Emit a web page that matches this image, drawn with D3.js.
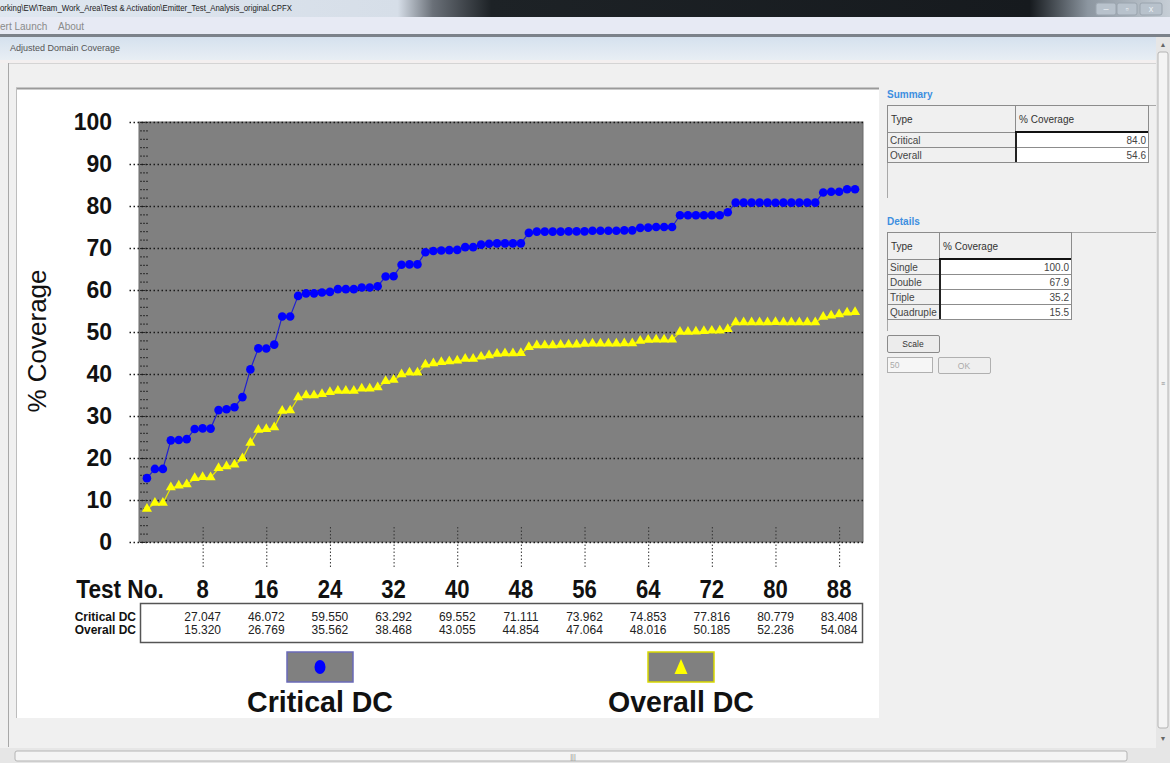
<!DOCTYPE html>
<html lang="en">
<head>
<meta charset="utf-8">
<title>Adjusted Domain Coverage</title>
<script src="https://d3js.org/d3.v7.min.js"></script>
<style>
  body { margin: 0; background: #f0f0f0; }
  svg { display: block; font-family: "Liberation Sans", Arial, sans-serif; }
</style>
</head>
<body>
<script>
// data: % coverage after each test (tests 1..90)
const criticalDC = [
  15.2, 17.4, 17.4, 24.2, 24.3, 24.5, 26.9, 27.05, 27.0, 31.4,
  31.6, 32.1, 34.5, 41.1, 46.1, 46.07, 47.0, 53.7, 53.7, 58.6,
  59.2, 59.2, 59.4, 59.55, 60.2, 60.2, 60.2, 60.6, 60.6, 60.9,
  63.2, 63.29, 66.0, 66.1, 66.1, 69.0, 69.3, 69.4, 69.5, 69.55,
  70.2, 70.2, 70.8, 71.0, 71.1, 71.1, 71.1, 71.11, 73.6, 73.9,
  73.9, 73.9, 73.9, 73.95, 73.95, 73.96, 74.1, 74.1, 74.1, 74.1,
  74.2, 74.2, 74.8, 74.85, 75.0, 75.0, 75.0, 77.8, 77.8, 77.8,
  77.8, 77.82, 77.8, 78.5, 80.8, 80.8, 80.8, 80.8, 80.8, 80.78,
  80.8, 80.8, 80.8, 80.8, 80.8, 83.2, 83.4, 83.41, 84.0, 84.0
];
const overallDC = [
  7.8, 9.2, 9.2, 12.9, 13.3, 13.6, 15.1, 15.32, 15.3, 17.5,
  17.9, 18.3, 19.8, 23.5, 26.6, 26.77, 27.2, 31.1, 31.2, 34.3,
  34.8, 34.8, 35.1, 35.56, 35.9, 35.9, 35.9, 36.4, 36.4, 36.7,
  38.2, 38.47, 39.8, 40.2, 40.2, 42.1, 42.4, 42.7, 42.9, 43.06,
  43.5, 43.5, 44.0, 44.3, 44.7, 44.8, 44.8, 44.85, 46.3, 46.7,
  46.7, 46.7, 46.8, 46.9, 46.9, 47.06, 47.1, 47.1, 47.1, 47.1,
  47.2, 47.2, 47.8, 48.02, 48.1, 48.1, 48.1, 49.9, 49.9, 50.0,
  50.1, 50.19, 50.2, 50.6, 52.2, 52.2, 52.2, 52.2, 52.2, 52.24,
  52.2, 52.2, 52.2, 52.2, 52.2, 53.5, 53.8, 54.08, 54.5, 54.6
];
const xTicks = [8, 16, 24, 32, 40, 48, 56, 64, 72, 80, 88];
const yTicks = [0, 10, 20, 30, 40, 50, 60, 70, 80, 90, 100];
const tableCritical = ["27.047", "46.072", "59.550", "63.292", "69.552", "71.111", "73.962", "74.853", "77.816", "80.779", "83.408"];
const tableOverall = ["15.320", "26.769", "35.562", "38.468", "43.055", "44.854", "47.064", "48.016", "50.185", "52.236", "54.084"];
const seriesNames = ["Critical DC", "Overall DC"];
const summaryRows = [["Critical", "84.0"], ["Overall", "54.6"]];
const detailRows = [["Single", "100.0"], ["Double", "67.9"], ["Triple", "35.2"], ["Quadruple", "15.5"]];

const W = 1170, H = 763;
const plot = { left: 139, right: 863, top: 122, bottom: 542 };

const svg = d3.select("body").append("svg").attr("width", W).attr("height", H);
const defs = svg.append("defs");

// ---- window chrome ----
const tg = defs.append("linearGradient").attr("id", "titleGrad");
[[0, "#dfe7f0"], [0.34, "#d6dee8"], [0.37, "#6a7078"], [0.42, "#1d2226"], [0.88, "#161a1e"], [0.93, "#8c96a0"], [1, "#c6ced6"]]
  .forEach(s => tg.append("stop").attr("offset", s[0]).attr("stop-color", s[1]));
const hg = defs.append("linearGradient").attr("id", "tabGrad").attr("x2", 0).attr("y2", 1);
hg.append("stop").attr("offset", 0).attr("stop-color", "#d5e1ee");
hg.append("stop").attr("offset", 1).attr("stop-color", "#e8eef4");

svg.append("rect").attr("width", W).attr("height", H).attr("fill", "#f0f0f0");
svg.append("rect").attr("width", W).attr("height", 17).attr("fill", "url(#titleGrad)");
svg.append("text").attr("x", 0).attr("y", 11).attr("font-size", 9).attr("fill", "#222")
  .attr("textLength", 292).attr("lengthAdjust", "spacingAndGlyphs")
  .text("orking\\EW\\Team_Work_Area\\Test & Activation\\Emitter_Test_Analysis_original.CPFX");
// window buttons
[[1096, 20, "–"], [1117, 20, "▫"], [1140, 22, "x"]].forEach(b => {
  svg.append("rect").attr("x", b[0]).attr("y", 3).attr("width", b[1]).attr("height", 12)
    .attr("fill", "#b8c2cc").attr("stroke", "#9aa4ae").attr("rx", 2);
  svg.append("text").attr("x", b[0] + b[1] / 2).attr("y", 12).attr("text-anchor", "middle")
    .attr("font-size", 9).attr("fill", "#eef2f6").text(b[2]);
});
svg.append("rect").attr("y", 17).attr("width", W).attr("height", 17).attr("fill", "#e7eaf4");
svg.append("text").attr("x", 0).attr("y", 30).attr("font-size", 10).attr("fill", "#8a8a8a").text("ert Launch");
svg.append("text").attr("x", 58).attr("y", 30).attr("font-size", 10).attr("fill", "#8a8a8a").text("About");
svg.append("rect").attr("y", 34).attr("width", W).attr("height", 3).attr("fill", "#7c828a");
svg.append("rect").attr("y", 37).attr("width", W).attr("height", 23).attr("fill", "url(#tabGrad)");
svg.append("text").attr("x", 10).attr("y", 51).attr("font-size", 9).attr("fill", "#555").text("Adjusted Domain Coverage");
svg.append("rect").attr("y", 60).attr("width", W).attr("height", 3).attr("fill", "#f3efef");
svg.append("line").attr("x1", 8).attr("x2", 1156).attr("y1", 63.5).attr("y2", 63.5).attr("stroke", "#d4d4d4");
svg.append("line").attr("x1", 8.5).attr("x2", 8.5).attr("y1", 63).attr("y2", 747).attr("stroke", "#a8a8a8");

// scrollbars
svg.append("rect").attr("x", 1156).attr("y", 37).attr("width", 14).attr("height", 711).attr("fill", "#e6e6e6");
svg.append("rect").attr("x", 1158).attr("y", 52).attr("width", 10).attr("height", 676).attr("fill", "#f4f4f4")
  .attr("stroke", "#b4b4b4").attr("rx", 2);
svg.append("text").attr("x", 1163).attr("y", 47).attr("text-anchor", "middle").attr("font-size", 7).attr("fill", "#666").text("▲");
svg.append("text").attr("x", 1163).attr("y", 741).attr("text-anchor", "middle").attr("font-size", 7).attr("fill", "#666").text("▼");
svg.append("text").attr("x", 1163).attr("y", 386).attr("text-anchor", "middle").attr("font-size", 7).attr("fill", "#888").text("≡");
svg.append("rect").attr("y", 748).attr("width", W).attr("height", 15).attr("fill", "#e6e6e6");
svg.append("rect").attr("x", 15).attr("y", 751).attr("width", 1112).attr("height", 10).attr("fill", "#f4f4f4")
  .attr("stroke", "#b4b4b4").attr("rx", 2);
svg.append("text").attr("x", 573).attr("y", 759).attr("text-anchor", "middle").attr("font-size", 7).attr("fill", "#888").text("|||");

// ---- chart panel ----
svg.append("rect").attr("x", 16).attr("y", 88).attr("width", 863).attr("height", 630).attr("fill", "#fff");
svg.append("line").attr("x1", 16).attr("x2", 879).attr("y1", 88.5).attr("y2", 88.5).attr("stroke", "#9a9a9a").attr("stroke-width", 2);
svg.append("line").attr("x1", 16.5).attr("x2", 16.5).attr("y1", 88).attr("y2", 718).attr("stroke", "#bdbdbd");

const x = d3.scaleLinear().domain([0, 91]).range([plot.left, plot.right]);
const y = d3.scaleLinear().domain([0, 100]).range([plot.bottom, plot.top]);

svg.append("rect").attr("x", plot.left).attr("y", plot.top)
  .attr("width", plot.right - plot.left).attr("height", plot.bottom - plot.top)
  .attr("fill", "#808080").attr("stroke", "#6a6a6a");

// minor ticks inside plot on left
const minor = svg.append("g").attr("transform", `translate(${plot.left + 9},0)`)
  .call(d3.axisLeft(y).tickValues(d3.range(0, 101, 2)).tickSize(8).tickFormat(""));
minor.select(".domain").remove();
minor.selectAll("line").attr("stroke", "#2a2a2a").attr("stroke-dasharray", "2,1");

// dotted grid
const grid = svg.append("g").attr("transform", `translate(${plot.right},0)`)
  .call(d3.axisLeft(y).tickValues(yTicks).tickSize(plot.right - 128).tickFormat(""));
grid.select(".domain").remove();
grid.selectAll("line").attr("stroke", "#1a1a1a").attr("stroke-width", 1.3).attr("stroke-dasharray", "1.5,2.5");

// dotted x ticks
const xt = svg.append("g").attr("transform", `translate(0,${plot.bottom - 15})`)
  .call(d3.axisBottom(x).tickValues(xTicks).tickSize(41).tickFormat(""));
xt.select(".domain").remove();
xt.selectAll("line").attr("stroke", "#333").attr("stroke-dasharray", "1.5,2");

// y labels
const yl = svg.append("g").attr("transform", "translate(112,0)")
  .call(d3.axisLeft(y).tickValues(yTicks).tickSize(0).tickPadding(0));
yl.select(".domain").remove();
yl.selectAll("text").attr("font-size", 23).attr("font-weight", "bold").attr("fill", "#111")
  .attr("font-family", "'Liberation Sans', Arial, sans-serif");

svg.append("text").attr("transform", "translate(46,341) rotate(-90)")
  .attr("text-anchor", "middle").attr("font-size", 26).attr("fill", "#111").text("% Coverage");

// x labels
svg.selectAll(".xlab").data(xTicks).join("text").attr("class", "xlab")
  .attr("transform", d => `translate(${x(d)},598) scale(0.85,1)`)
  .attr("text-anchor", "middle").attr("font-size", 26).attr("font-weight", "bold").attr("fill", "#111")
  .text(d => d);
svg.append("text").attr("transform", "translate(120,598) scale(0.87,1)").attr("text-anchor", "middle")
  .attr("font-size", 26).attr("font-weight", "bold").attr("fill", "#111").text("Test No.");

// lines and markers
const line = d3.line().x((d, i) => x(i + 1)).y(d => y(d));
svg.append("path").datum(overallDC).attr("d", line).attr("fill", "none").attr("stroke", "#e8e800").attr("stroke-width", 1.2);
svg.append("path").datum(criticalDC).attr("d", line).attr("fill", "none").attr("stroke", "#2020d0").attr("stroke-width", 1.2);

const tri = d3.symbol().type(d3.symbolTriangle).size(44);
svg.selectAll(".tri").data(overallDC).join("path").attr("class", "tri")
  .attr("transform", (d, i) => `translate(${x(i + 1)},${y(d) - 0.5})`)
  .attr("d", tri).attr("fill", "#ffff00");
svg.selectAll(".dot").data(criticalDC).join("circle").attr("class", "dot")
  .attr("cx", (d, i) => x(i + 1)).attr("cy", d => y(d)).attr("r", 4.3).attr("fill", "#0000ff");

// value table
svg.append("rect").attr("x", 140.5).attr("y", 603.5).attr("width", 722).attr("height", 39)
  .attr("fill", "#fff").attr("stroke", "#555").attr("stroke-width", 1.5);
svg.append("text").attr("x", 136).attr("y", 621).attr("text-anchor", "end").attr("font-size", 12)
  .attr("font-weight", "bold").attr("fill", "#111").text(seriesNames[0]);
svg.append("text").attr("x", 136).attr("y", 634).attr("text-anchor", "end").attr("font-size", 12)
  .attr("font-weight", "bold").attr("fill", "#111").text(seriesNames[1]);
svg.selectAll(".tc").data(tableCritical).join("text").attr("class", "tc")
  .attr("x", (d, i) => x(xTicks[i])).attr("y", 621).attr("text-anchor", "middle")
  .attr("font-size", 12).attr("fill", "#222").text(d => d);
svg.selectAll(".to").data(tableOverall).join("text").attr("class", "to")
  .attr("x", (d, i) => x(xTicks[i])).attr("y", 634).attr("text-anchor", "middle")
  .attr("font-size", 12).attr("fill", "#222").text(d => d);

// legend
const lg = [{ cx: 320, stroke: "#6a6ab8" }, { cx: 681, stroke: "#d8d800" }];
lg.forEach((l, i) => {
  svg.append("rect").attr("x", l.cx - 33).attr("y", 652).attr("width", 66).attr("height", 30)
    .attr("fill", "#808080").attr("stroke", l.stroke).attr("stroke-width", 1.5);
  if (i === 0) {
    svg.append("ellipse").attr("cx", l.cx).attr("cy", 667).attr("rx", 5.5).attr("ry", 7).attr("fill", "#0000ff");
  } else {
    svg.append("path").attr("d", `M${l.cx},659L${l.cx + 6.5},674L${l.cx - 6.5},674Z`).attr("fill", "#ffff00");
  }
  svg.append("text").attr("transform", `translate(${l.cx},712) scale(1.02,1.05)`).attr("text-anchor", "middle")
    .attr("font-size", 28).attr("font-weight", "bold").attr("fill", "#111").text(seriesNames[i]);
});

// ---- right side panel ----
function panelTable(top, title, cols, rows, lineBottom) {
  svg.append("text").attr("x", 887).attr("y", top - 7).attr("font-size", 10).attr("font-weight", "bold")
    .attr("fill", "#3d8fe0").text(title);
  svg.append("line").attr("x1", 887).attr("x2", 1156).attr("y1", top + 0.5).attr("y2", top + 0.5).attr("stroke", "#a8a8a8");
  svg.append("line").attr("x1", 887.5).attr("x2", 887.5).attr("y1", top).attr("y2", lineBottom).attr("stroke", "#a8a8a8");
  const hH = 27, rH = 15;
  svg.append("rect").attr("x", 887.5).attr("y", top + 0.5).attr("width", cols[1] - 887).attr("height", hH)
    .attr("fill", "#f0f0f0").attr("stroke", "#8c8c8c");
  svg.append("rect").attr("x", cols[0] + 0.5).attr("y", top + 0.5).attr("width", cols[1] - cols[0]).attr("height", hH)
    .attr("fill", "#f0f0f0").attr("stroke", "#8c8c8c");
  svg.append("text").attr("x", 891).attr("y", top + 18).attr("font-size", 10).attr("fill", "#333").text("Type");
  svg.append("text").attr("x", cols[0] + 4).attr("y", top + 18).attr("font-size", 10).attr("fill", "#333").text("% Coverage");
  rows.forEach((r, i) => {
    const ry = top + hH + i * rH;
    svg.append("rect").attr("x", 887.5).attr("y", ry + 0.5).attr("width", cols[0] - 887).attr("height", rH)
      .attr("fill", "#f0f0f0").attr("stroke", "#8c8c8c");
    svg.append("rect").attr("x", cols[0] + 0.5).attr("y", ry + 0.5).attr("width", cols[1] - cols[0]).attr("height", rH)
      .attr("fill", "#fff").attr("stroke", "#8c8c8c");
    svg.append("line").attr("x1", cols[0] + 1).attr("x2", cols[0] + 1).attr("y1", ry).attr("y2", ry + rH)
      .attr("stroke", "#222").attr("stroke-width", 2);
    svg.append("text").attr("x", 890).attr("y", ry + 12).attr("font-size", 10).attr("fill", "#444").text(r[0]);
    svg.append("text").attr("x", cols[1] - 2).attr("y", ry + 12).attr("text-anchor", "end")
      .attr("font-size", 10).attr("fill", "#444").text(r[1]);
  });
  svg.append("line").attr("x1", cols[0]).attr("x2", cols[1]).attr("y1", top + hH).attr("y2", top + hH)
    .attr("stroke", "#111").attr("stroke-width", 2);
}
panelTable(105, "Summary", [1015, 1148], summaryRows, 198);
panelTable(232, "Details", [939, 1071], detailRows, 331);

// Scale button, input and OK
svg.append("rect").attr("x", 887.5).attr("y", 335.5).attr("width", 52).attr("height", 17)
  .attr("fill", "#ececec").attr("stroke", "#8a8a8a").attr("rx", 1.5);
svg.append("text").attr("x", 913).attr("y", 347).attr("text-anchor", "middle").attr("font-size", 8.5).attr("fill", "#333").text("Scale");
svg.append("rect").attr("x", 887.5).attr("y", 357.5).attr("width", 45).attr("height", 15)
  .attr("fill", "#f6f6f6").attr("stroke", "#b0b0b0");
svg.append("text").attr("x", 890).attr("y", 368).attr("font-size", 8.5).attr("fill", "#aaa").text("50");
svg.append("rect").attr("x", 938.5).attr("y", 357.5).attr("width", 52).attr("height", 16)
  .attr("fill", "#efefef").attr("stroke", "#b0b0b0").attr("rx", 1.5);
svg.append("text").attr("x", 964).attr("y", 369).attr("text-anchor", "middle").attr("font-size", 8.5).attr("fill", "#aaa").text("OK");
</script>
</body>
</html>
